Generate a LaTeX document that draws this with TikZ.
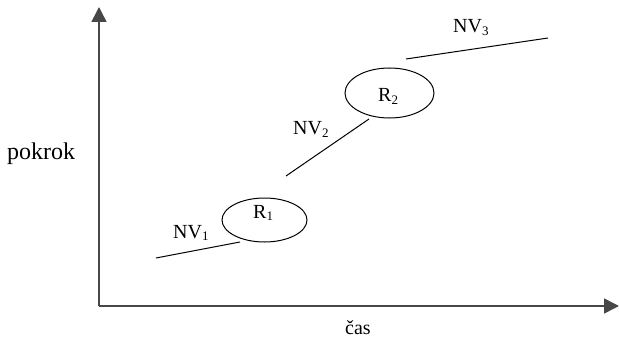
\documentclass[tikz,border=0pt]{standalone}
\usepackage{fontspec}
\setmainfont{Liberation Serif}
\usetikzlibrary{arrows.meta,shapes.geometric}
\newcommand{\sbs}[1]{\raisebox{-0.3ex}{\fontsize{13}{13}\selectfont #1}}
\begin{document}
\begin{tikzpicture}[x=1pt,y=-1pt,
  axis/.style={line width=1.5pt,draw=black!72,-{Triangle[length=15pt,width=15pt]}},
  seg/.style={line width=1pt},
  region/.style={draw,line width=1pt,ellipse,inner sep=0pt},
  lbl/.style={font=\fontsize{20}{22}\selectfont,inner sep=0pt,anchor=base west},
  ]
\useasboundingbox (0,0) rectangle (619,337);
\coordinate (O) at (99,306);
\coordinate (Ytop) at (99,7);
\coordinate (Xend) at (619,306);
\draw[axis] (O) -- (Ytop);
\draw[axis] (O) -- (Xend);
\node[lbl,font=\fontsize{24}{26}\selectfont] (pokrok) at (7,159) {pokrok};
\node[lbl,anchor=base] (cas) at (358,334) {čas};
% segments
\coordinate (a1) at (156,258); \coordinate (a2) at (240,242);
\coordinate (b1) at (286,176); \coordinate (b2) at (369,119);
\coordinate (c1) at (406,59);  \coordinate (c2) at (548,38);
\draw[seg] (a1) -- (a2);
\draw[seg] (b1) -- (b2);
\draw[seg] (c1) -- (c2);
\node[region,minimum width=85pt,minimum height=44pt] (R1) at (264.5,220) {};
\node[region,minimum width=89pt,minimum height=50pt] (R2) at (389.5,93) {};
\node[lbl] (r1t) at (253,218) {R\sbs{1}};
\node[lbl] (r2t) at (378,101.5) {R\sbs{2}};
\node[lbl] (nv1) at (173,238) {NV\sbs{1}};
\node[lbl] (nv2) at (293,135) {NV\sbs{2}};
\node[lbl] (nv3) at (453,32.5) {NV\sbs{3}};
\end{tikzpicture}
\end{document}
